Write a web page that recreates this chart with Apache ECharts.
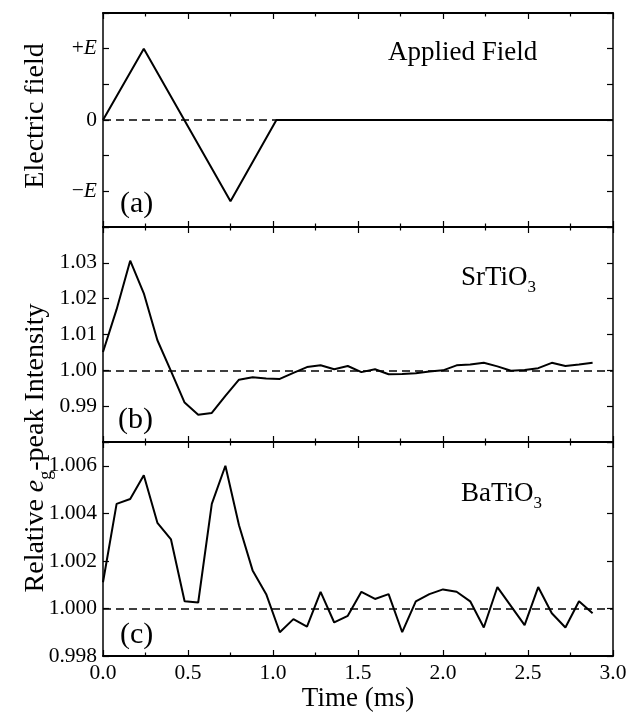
<!DOCTYPE html>
<html>
<head>
<meta charset="utf-8">
<script src="https://cdn.jsdelivr.net/npm/echarts@6/dist/echarts.min.js"></script>
<style>
html,body{margin:0;padding:0;background:#fff;}
#chart{width:630px;height:713px;}
</style>
</head>
<body>
<div id="chart"></div>
<script>
// ---- data ----
const fieldTimes = [0, 0.24, 0.75, 1.02, 3.0];
const fieldValues = [0, 1, -1.14, 0, 0];
const sampleTimes = [0.00,0.08,0.16,0.24,0.32,0.40,0.48,0.56,0.64,0.72,0.80,0.88,0.96,1.04,1.12,1.20,1.28,1.36,1.44,1.52,1.60,1.68,1.76,1.84,1.92,2.00,2.08,2.16,2.24,2.32,2.40,2.48,2.56,2.64,2.72,2.80,2.88];
const srtio3 = [1.0051,1.0170,1.0306,1.0215,1.0084,0.9998,0.9910,0.9876,0.9881,0.9929,0.9974,0.9981,0.9977,0.9976,0.9993,1.0009,1.0014,1.0003,1.0012,0.9995,1.0003,0.9989,0.9990,0.9992,0.9997,1.0000,1.0014,1.0016,1.0021,1.0011,0.9999,1.0001,1.0006,1.0021,1.0012,1.0016,1.0021];
const batio3 = [1.0011,1.0044,1.0046,1.0056,1.0036,1.0029,1.0003,1.00025,1.0044,1.0060,1.0035,1.0016,1.0006,0.9990,0.99955,0.99924,1.0007,0.99941,0.99969,1.0007,1.0004,1.0006,0.9990,1.0003,1.0006,1.0008,1.0007,1.0003,0.9992,1.0009,1.0001,0.9993,1.0009,0.9998,0.9992,1.0003,0.9998];
const refLevels = [0, 1.00, 1.000];
const xTickLabels = ['0.0','0.5','1.0','1.5','2.0','2.5','3.0'];
const panelLabels = ['(a)','(b)','(c)'];

// ---- layout / style ----
const FONT = '"Liberation Serif","Times New Roman",serif';
const TICK_FS = 21.5, TITLE_FS = 28, ANNOT_FS = 27;
const LEFT = 103, WIDTH = 510;
const grids = [
  {left: LEFT, width: WIDTH, top: 13, height: 214},
  {left: LEFT, width: WIDTH, top: 227, height: 215},
  {left: LEFT, width: WIDTH, top: 442, height: 215}
];
const yRanges = [
  {min: -1.5, max: 1.5, interval: 0.5},
  {min: 0.98, max: 1.04, interval: 0.01},
  {min: 0.998, max: 1.007, interval: 0.002}
];
const yFormatters = [
  v => Math.abs(v - 1) < 1e-6 ? '{s|+}{i|E}' : (Math.abs(v) < 1e-6 ? '{s|0}' : (Math.abs(v + 1) < 1e-6 ? '{s|\u2212}{i|E}' : '')),
  v => (v > 0.985 && v < 1.035) ? v.toFixed(2) : '',
  v => (v < 1.0065) ? v.toFixed(3) : ''
];

const xAxes = [], yAxes = [];
for (let i = 0; i < 3; i++) {
  ['bottom', 'top'].forEach(pos => {
    const isLabelled = (i === 2 && pos === 'bottom');
    xAxes.push({
      type: 'value', gridIndex: i, min: 0, max: 3, interval: 0.5, position: pos,
      axisLine: {show: true, onZero: false, lineStyle: {color: '#000', width: 2}},
      axisTick: {show: true, inside: true, length: 6, lineStyle: {color: '#000', width: 1.2}},
      minorTick: {show: true, splitNumber: 2, length: 3.5, lineStyle: {color: '#000', width: 1.2}},
      splitLine: {show: false}, minorSplitLine: {show: false},
      axisLabel: {show: isLabelled, color: '#000', fontSize: TICK_FS, fontFamily: FONT, margin: 6,
        formatter: v => xTickLabels[Math.round(v * 2)] || ''},
      name: isLabelled ? 'Time (ms)' : '',
      nameLocation: 'middle', nameGap: 29,
      nameTextStyle: {color: '#000', fontSize: ANNOT_FS, fontFamily: FONT}
    });
  });
  ['left', 'right'].forEach(pos => {
    yAxes.push({
      type: 'value', gridIndex: i, min: yRanges[i].min, max: yRanges[i].max, interval: yRanges[i].interval, position: pos,
      axisLine: {show: true, onZero: false, lineStyle: {color: '#000', width: 1.5}},
      axisTick: {show: true, inside: true, length: 6, lineStyle: {color: '#000', width: 1.2}},
      splitLine: {show: false},
      axisLabel: {show: pos === 'left', color: '#000', fontSize: TICK_FS, fontFamily: FONT, margin: 6,
        formatter: yFormatters[i],
        rich: {
          s: {fontSize: TICK_FS, fontFamily: FONT, color: '#000'},
          i: {fontSize: TICK_FS, fontFamily: FONT, fontStyle: 'italic', color: '#000'}
        }}
    });
  });
}

function mkLine(i, xs, ys, ref) {
  return {
    type: 'line', xAxisIndex: i * 2, yAxisIndex: i * 2,
    data: xs.map((t, k) => [t, ys[k]]),
    showSymbol: false, symbol: 'none',
    lineStyle: {color: '#000', width: 2}, itemStyle: {color: '#000'},
    z: 3,
    markLine: {
      silent: true, symbol: 'none', label: {show: false}, animation: false,
      lineStyle: {color: '#000', width: 1.5, type: [8, 5]},
      data: [{yAxis: ref}]
    }
  };
}

const textBase = {fill: '#000', fontFamily: FONT};
const richAnnot = {
  m: {fontSize: ANNOT_FS, fontFamily: FONT, color: '#000', lineHeight: 36},
  d: {fontSize: 17, fontFamily: FONT, color: '#000', lineHeight: 16, verticalAlign: 'bottom'}
};

const graphics = [
  {type: 'text', x: 388, y: 53, style: Object.assign({text: 'Applied Field', fontSize: ANNOT_FS, align: 'left', verticalAlign: 'middle'}, textBase)},
  {type: 'text', x: 461, y: 278, style: Object.assign({text: '{m|SrTiO}{d|3}', rich: richAnnot, align: 'left', verticalAlign: 'middle'}, textBase)},
  {type: 'text', x: 461, y: 494, style: Object.assign({text: '{m|BaTiO}{d|3}', rich: richAnnot, align: 'left', verticalAlign: 'middle'}, textBase)},
  {type: 'text', x: 120, y: 204, style: Object.assign({text: panelLabels[0], fontSize: 30, align: 'left', verticalAlign: 'middle'}, textBase)},
  {type: 'text', x: 118, y: 420, style: Object.assign({text: panelLabels[1], fontSize: 30, align: 'left', verticalAlign: 'middle'}, textBase)},
  {type: 'text', x: 120, y: 635, style: Object.assign({text: panelLabels[2], fontSize: 30, align: 'left', verticalAlign: 'middle'}, textBase)},
  {type: 'text', x: 36, y: 116, rotation: Math.PI / 2,
    style: Object.assign({text: 'Electric field', fontSize: TITLE_FS, align: 'center', verticalAlign: 'middle'}, textBase)},
  {type: 'text', x: 36, y: 448, rotation: Math.PI / 2,
    style: Object.assign({text: '{m|Relative }{e|e}{g|g}{m|-peak Intensity}', align: 'center', verticalAlign: 'middle',
      rich: {
        m: {fontSize: TITLE_FS, fontFamily: FONT, color: '#000', lineHeight: 38},
        e: {fontSize: TITLE_FS, fontFamily: FONT, color: '#000', lineHeight: 38, fontStyle: 'italic'},
        g: {fontSize: 18, fontFamily: FONT, color: '#000', lineHeight: 17, verticalAlign: 'bottom'}
      }}, textBase)}
];

const chart = echarts.init(document.getElementById('chart'), null, {renderer: 'canvas'});
chart.setOption({
  animation: false,
  backgroundColor: '#fff',
  grid: grids,
  xAxis: xAxes,
  yAxis: yAxes,
  series: [
    mkLine(0, fieldTimes, fieldValues, refLevels[0]),
    mkLine(1, sampleTimes, srtio3, refLevels[1]),
    mkLine(2, sampleTimes, batio3, refLevels[2])
  ],
  graphic: graphics
});
</script>
</body>
</html>
